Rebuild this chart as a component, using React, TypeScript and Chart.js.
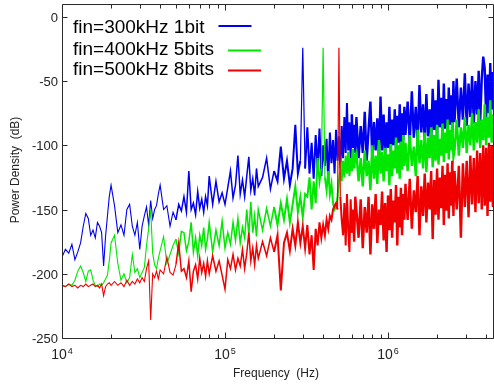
import React, { useEffect, useRef } from "react";
import { Chart, registerables } from "chart.js";

Chart.register(...registerables);

// Frequencies in kHz (shared FFT grid)
const FREQ_KHZ = [
  10, 10.5, 11, 11.5, 12, 12.5, 13, 13.5, 14, 14.5, 15, 15.5, 16, 16.5, 17, 17.5, 18, 18.5, 19, 19.5,
  20, 21, 22, 23, 24, 25, 26, 27, 28, 29, 30, 31, 32, 33, 34, 35, 36, 37, 38, 39,
  40, 42, 44, 46, 48, 50, 52, 54, 56, 58, 60, 62, 64, 66, 68, 70, 72, 74, 76, 78,
  80, 84, 88, 92, 96, 100, 104, 108, 112, 116, 120, 124, 128, 132, 136, 140, 144, 148, 152, 156,
  160, 170, 180, 190, 200, 210, 220, 230, 240, 250, 260, 270, 280, 290, 300, 310,
  320, 330, 340, 350, 360, 370, 380, 390, 400, 410, 420, 430, 440, 450, 460, 470,
  480, 490, 500, 510, 520, 530, 540, 550, 560, 570, 580, 590, 600, 610, 620, 630,
  640, 660, 680, 700, 720, 740, 760, 780, 800, 820, 840, 860, 880, 900, 920, 940,
  960, 980, 1000, 1020, 1040, 1060, 1080, 1100, 1120, 1140, 1160, 1180, 1200, 1220, 1240, 1260,
  1280, 1320, 1360, 1400, 1440, 1480, 1520, 1560, 1600, 1640, 1680, 1720, 1760, 1800, 1840, 1880,
  1920, 1960, 2000, 2040, 2080, 2120, 2160, 2200, 2240, 2280, 2320, 2360, 2400, 2440, 2480, 2520,
  2560, 2640, 2720, 2800, 2880, 2960, 3040, 3120, 3200, 3280, 3360, 3440, 3520, 3600, 3680, 3760,
  3840, 3920, 4000, 4080, 4160, 4240, 4320, 4400, 4480, 4560, 4640,
];

// fin=300kHz 1bit
const BLUE_DB = [
  -187, -181, -184, -177, -189, -183, -176, -163, -153, -157, -170, -166, -172, -160, -163, -168, -194, -171, -155, -140,
  -131, -147, -168, -162, -170, -150, -146, -163, -170, -160, -181, -163, -155, -148, -162, -143, -157, -150, -147, -138,
  -131, -150, -147, -163, -152, -158, -146, -151, -140, -152, -120, -150, -145, -154, -136, -149, -142, -152, -140, -147,
  -124, -146, -128, -144, -137, -146, -133, -120, -141, -131, -108, -138, -127, -140, -124, -109, -135, -126, -139, -118,
  -132, -125, -110, -134, -120, -128, -101, -126, -112, -131, -118, -84, -122, -112, -24, -118,
  -86, -122, -98, -126, -92, -118, -87, -124, -100, -116, -95, -128, -90, -114, -96, -122,
  -88, -112, -93, -118, -85, -110, -78, -106, -67, -104, -82, -110, -76, -102, -84, -106,
  -78, -110, -85, -106, -74, -112, -88, -66, -108, -82, -104, -79, -110, -62, -104, -76,
  -107, -82, -102, -70, -105, -80, -100, -72, -103, -77, -98, -68, -101, -75, -96, -70,
  -92, -66, -98, -58, -94, -70, -99, -53, -90, -68, -96, -60, -93, -72, -97, -56,
  -88, -65, -95, -49, -86, -63, -92, -52, -87, -64, -93, -55, -84, -61, -90, -50,
  -82, -48, -86, -55, -80, -44, -85, -52, -78, -46, -83, -50, -76, -42, -81, -48,
  -31, -40, -79, -45, -75, -36, -72, -43, -77, -39, -70,
];

// fin=400kHz 5bits
const GREEN_DB = [
  -209, -210, -208, -209, -205, -198, -194, -199, -206, -198, -197, -205, -209, -210, -208, -209, -207, -204, -201, -190,
  -176, -170, -192, -205, -200, -207, -203, -185, -199, -196, -203, -199, -195, -178, -165, -150, -184, -193, -196, -188,
  -182, -171, -192, -185, -178, -173, -184, -167, -168, -182, -175, -160, -183, -172, -186, -170, -178, -164, -181, -173,
  -160, -183, -166, -178, -159, -180, -168, -177, -160, -174, -157, -176, -164, -172, -150, -170, -144, -168, -155, -171,
  -150, -166, -149, -163, -148, -162, -145, -158, -142, -160, -146, -132, -152, -140, -156, -138,
  -140, -125, -150, -128, -145, -110, -128, -118, -24, -125, -135, -120, -138, -130, -145, -150,
  -148, -140, -128, -118, -128, -112, -125, -108, -122, -105, -124, -110, -120, -103, -118, -108,
  -106, -128, -110, -132, -104, -124, -112, -135, -100, -126, -108, -130, -96, -122, -105, -128,
  -102, -120, -107, -131, -99, -124, -104, -118, -94, -122, -100, -126, -97, -119, -92, -116,
  -98, -120, -92, -116, -101, -124, -88, -114, -96, -118, -90, -121, -94, -110, -86, -117,
  -92, -112, -84, -115, -95, -108, -83, -113, -90, -106, -80, -111, -88, -104, -82, -109,
  -104, -80, -108, -86, -102, -78, -106, -84, -100, -75, -104, -82, -98, -72, -102, -80,
  -96, -68, -100, -78, -94, -65, -98, -76, -92, -70, -95,
];

// fin=500kHz 8bits
const RED_DB = [
  -209, -210, -208, -210, -209, -211, -209, -210, -208, -210, -209, -208, -210, -209, -211, -208, -217, -210, -208, -207,
  -209, -206, -209, -207, -210, -205, -209, -206, -208, -204, -207, -203, -206, -196, -190, -236, -200, -203, -198, -204,
  -197, -200, -187, -199, -201, -193, -176, -198, -196, -203, -190, -214, -198, -193, -204, -188, -199, -192, -202, -190,
  -200, -186, -198, -190, -201, -212, -189, -196, -185, -197, -188, -194, -181, -196, -184, -168, -190, -180, -193, -178,
  -188, -175, -186, -172, -183, -170, -213, -176, -168, -182, -165, -178, -160, -176, -163, -180,
  -162, -185, -170, -197, -165, -178, -160, -172, -162, -170, -158, -165, -155, -158, -150, -147,
  -145, -150, -24, -140, -158, -170, -145, -178, -138, -165, -183, -142, -168, -150, -175, -140,
  -150, -172, -142, -180, -148, -168, -140, -185, -146, -165, -138, -176, -150, -162, -136, -174,
  -145, -183, -139, -166, -134, -172, -143, -160, -131, -178, -140, -164, -133, -170, -138, -158,
  -130, -158, -126, -165, -135, -152, -124, -170, -132, -155, -122, -160, -129, -150, -120, -173,
  -127, -154, -118, -158, -125, -149, -116, -162, -123, -151, -114, -157, -121, -147, -112, -155,
  -120, -150, -116, -172, -114, -148, -112, -156, -108, -146, -110, -152, -104, -145, -106, -150,
  -100, -147, -102, -155, -98, -144, -100, -148, -95, -160, -97,
];

const SERIES_LABELS = ["fin=300kHz 1bit", "fin=400kHz 5bits", "fin=500kHz 8bits"];
const SERIES_COLORS = ["#0000f0", "#00e800", "#f00000"];
const Y_TICKS = [0, -50, -100, -150, -200, -250];
const X_DECADES = [4, 5, 6];
const X_MIN_HZ = 1e4;
const X_MAX_HZ = 4.47e6;
const Y_MIN = -250;
const Y_MAX = 10;
const X_TITLE = "Frequency  (Hz)";
const Y_TITLE = "Power Density  (dB)";

const FONT = '"Liberation Sans", Arial, Helvetica, sans-serif';

const framePlugin = {
  id: "frame",
  afterDraw(chart: any) {
    const { ctx, chartArea: a, scales } = chart;
    const xs = scales.x;
    const ys = scales.y;
    ctx.save();
    const L = a.left + 0.5;
    const R = a.right - 0.5;
    const T = a.top + 0.5;
    const B = a.bottom + 0.5;
    ctx.strokeStyle = "#2a2a2a";
    ctx.lineWidth = 1;
    ctx.beginPath();
    ctx.moveTo(L, T);
    ctx.lineTo(R, T);
    ctx.lineTo(R, B);
    ctx.lineTo(L, B);
    ctx.closePath();
    ctx.stroke();

    ctx.fillStyle = "#222";
    ctx.font = `13px ${FONT}`;
    ctx.textAlign = "right";
    ctx.textBaseline = "middle";
    for (const v of Y_TICKS) {
      const py = Math.round(ys.getPixelForValue(v)) + 0.5;
      ctx.beginPath();
      ctx.moveTo(L, py);
      ctx.lineTo(L + 5, py);
      ctx.moveTo(R, py);
      ctx.lineTo(R - 5, py);
      ctx.stroke();
      ctx.fillText(String(v), 58, py + 1);
    }

    for (const d of X_DECADES) {
      for (let k = 1; k <= 9; k++) {
        const f = k * Math.pow(10, d);
        if (f < X_MIN_HZ || f > X_MAX_HZ) continue;
        const px = Math.round(xs.getPixelForValue(f)) + 0.5;
        const len = k === 1 ? 6 : 4;
        ctx.beginPath();
        ctx.moveTo(px, B);
        ctx.lineTo(px, B - len);
        ctx.moveTo(px, T);
        ctx.lineTo(px, T + len);
        ctx.stroke();
      }
    }

    ctx.textAlign = "left";
    ctx.textBaseline = "alphabetic";
    for (const d of X_DECADES) {
      const px = xs.getPixelForValue(Math.pow(10, d));
      ctx.font = `14px ${FONT}`;
      const w1 = ctx.measureText("10").width;
      ctx.font = `9px ${FONT}`;
      const w2 = ctx.measureText(String(d)).width;
      const x0 = px - (w1 + w2 + 1) / 2;
      ctx.font = `14px ${FONT}`;
      ctx.fillText("10", x0, 359);
      ctx.font = `9px ${FONT}`;
      ctx.fillText(String(d), x0 + w1 + 1, 354);
    }

    ctx.font = `12px ${FONT}`;
    ctx.textAlign = "center";
    ctx.fillText(X_TITLE, 276, 377);
    ctx.save();
    ctx.translate(19, 170);
    ctx.rotate(-Math.PI / 2);
    ctx.textBaseline = "alphabetic";
    ctx.fillText(Y_TITLE, 0, 0);
    ctx.restore();

    ctx.fillStyle = "#000";
    ctx.font = `19px ${FONT}`;
    ctx.textAlign = "left";
    ctx.textBaseline = "alphabetic";
    const baselines = [33, 54.5, 75];
    const lineYs = [26, 50.5, 70.5];
    for (let i = 0; i < SERIES_LABELS.length; i++) {
      ctx.fillText(SERIES_LABELS[i], 73, baselines[i]);
      const tw = ctx.measureText(SERIES_LABELS[i]).width;
      ctx.strokeStyle = SERIES_COLORS[i];
      ctx.lineWidth = 2;
      ctx.beginPath();
      ctx.moveTo(73 + tw + 14, lineYs[i]);
      ctx.lineTo(73 + tw + 47, lineYs[i]);
      ctx.stroke();
    }
    ctx.restore();
  },
};

function widthFor(ctx: any) {
  const f = ctx.p0.parsed.x;
  const top = Math.max(ctx.p0.parsed.y, ctx.p1.parsed.y);
  if (top > -30) return 1.2;
  if (f < 50000) return 1.1;
  if (f < 200000) return 1.5;
  if (f < 600000) return 2;
  return 2.4;
}

export default function App() {
  const ref = useRef<HTMLCanvasElement | null>(null);
  useEffect(() => {
    if (!ref.current) return;
    const series = [BLUE_DB, GREEN_DB, RED_DB];
    const datasets = series.map((vals, i) => ({
      label: SERIES_LABELS[i],
      data: FREQ_KHZ.map((f, j) => ({ x: f * 1000, y: vals[j] })),
      borderColor: SERIES_COLORS[i],
      backgroundColor: SERIES_COLORS[i],
      borderWidth: 1.2,
      pointRadius: 0,
      tension: 0,
      fill: false,
      order: 3 - i,
      segment: { borderWidth: widthFor },
    }));
    const chart = new Chart(ref.current, {
      type: "line",
      data: { datasets },
      options: {
        animation: false,
        responsive: false,
        devicePixelRatio: 1,
        layout: { padding: { left: 62, right: 0, top: 4, bottom: 47 } },
        plugins: { legend: { display: false }, tooltip: { enabled: false }, title: { display: false } },
        events: [],
        scales: {
          x: { type: "logarithmic", min: X_MIN_HZ, max: X_MAX_HZ, display: false },
          y: { type: "linear", min: Y_MIN, max: Y_MAX, display: false },
        },
      },
      plugins: [framePlugin],
    } as any);
    return () => chart.destroy();
  }, []);
  return (
    <div style={{ position: "absolute", left: 0, top: 0, width: 494, height: 385, overflow: "hidden", background: "#fff" }}>
      <canvas ref={ref} width={494} height={385} style={{ display: "block", width: 494, height: 385 }} />
    </div>
  );
}
